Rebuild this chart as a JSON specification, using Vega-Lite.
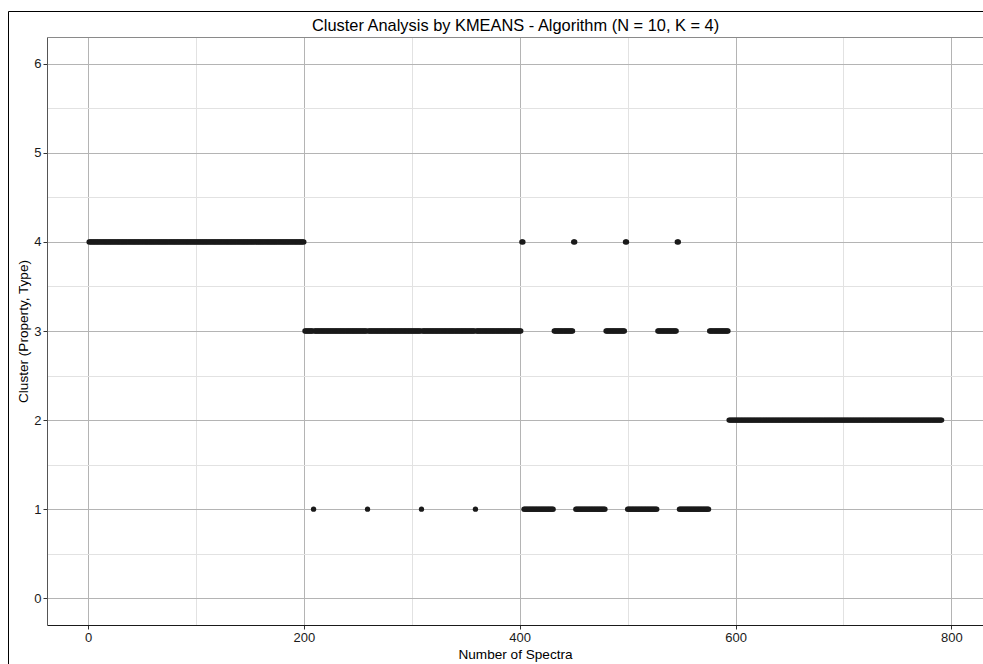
{
"$schema": "https://vega.github.io/schema/vega-lite/v6.json",
"width": 936, "height": 588,
"autosize": {"type": "none"},
"padding": {"left": 47, "top": 37, "right": 0, "bottom": 39},
"background": "white",
"title": {"text": "Cluster Analysis by KMEANS - Algorithm (N = 10, K = 4)", "anchor": "start", "frame": "group", "dx": 265, "font": "Liberation Sans", "fontSize": 16.4, "fontWeight": "normal", "color": "#000", "offset": -23},
"config": {"view": {"stroke": null}},
"data": {"values": [
{"n":1,"k":4},{"n":2,"k":4},{"n":3,"k":4},{"n":4,"k":4},{"n":5,"k":4},{"n":6,"k":4},{"n":7,"k":4},{"n":8,"k":4},{"n":9,"k":4},{"n":10,"k":4},
{"n":11,"k":4},{"n":12,"k":4},{"n":13,"k":4},{"n":14,"k":4},{"n":15,"k":4},{"n":16,"k":4},{"n":17,"k":4},{"n":18,"k":4},{"n":19,"k":4},{"n":20,"k":4},
{"n":21,"k":4},{"n":22,"k":4},{"n":23,"k":4},{"n":24,"k":4},{"n":25,"k":4},{"n":26,"k":4},{"n":27,"k":4},{"n":28,"k":4},{"n":29,"k":4},{"n":30,"k":4},
{"n":31,"k":4},{"n":32,"k":4},{"n":33,"k":4},{"n":34,"k":4},{"n":35,"k":4},{"n":36,"k":4},{"n":37,"k":4},{"n":38,"k":4},{"n":39,"k":4},{"n":40,"k":4},
{"n":41,"k":4},{"n":42,"k":4},{"n":43,"k":4},{"n":44,"k":4},{"n":45,"k":4},{"n":46,"k":4},{"n":47,"k":4},{"n":48,"k":4},{"n":49,"k":4},{"n":50,"k":4},
{"n":51,"k":4},{"n":52,"k":4},{"n":53,"k":4},{"n":54,"k":4},{"n":55,"k":4},{"n":56,"k":4},{"n":57,"k":4},{"n":58,"k":4},{"n":59,"k":4},{"n":60,"k":4},
{"n":61,"k":4},{"n":62,"k":4},{"n":63,"k":4},{"n":64,"k":4},{"n":65,"k":4},{"n":66,"k":4},{"n":67,"k":4},{"n":68,"k":4},{"n":69,"k":4},{"n":70,"k":4},
{"n":71,"k":4},{"n":72,"k":4},{"n":73,"k":4},{"n":74,"k":4},{"n":75,"k":4},{"n":76,"k":4},{"n":77,"k":4},{"n":78,"k":4},{"n":79,"k":4},{"n":80,"k":4},
{"n":81,"k":4},{"n":82,"k":4},{"n":83,"k":4},{"n":84,"k":4},{"n":85,"k":4},{"n":86,"k":4},{"n":87,"k":4},{"n":88,"k":4},{"n":89,"k":4},{"n":90,"k":4},
{"n":91,"k":4},{"n":92,"k":4},{"n":93,"k":4},{"n":94,"k":4},{"n":95,"k":4},{"n":96,"k":4},{"n":97,"k":4},{"n":98,"k":4},{"n":99,"k":4},{"n":100,"k":4},
{"n":101,"k":4},{"n":102,"k":4},{"n":103,"k":4},{"n":104,"k":4},{"n":105,"k":4},{"n":106,"k":4},{"n":107,"k":4},{"n":108,"k":4},{"n":109,"k":4},{"n":110,"k":4},
{"n":111,"k":4},{"n":112,"k":4},{"n":113,"k":4},{"n":114,"k":4},{"n":115,"k":4},{"n":116,"k":4},{"n":117,"k":4},{"n":118,"k":4},{"n":119,"k":4},{"n":120,"k":4},
{"n":121,"k":4},{"n":122,"k":4},{"n":123,"k":4},{"n":124,"k":4},{"n":125,"k":4},{"n":126,"k":4},{"n":127,"k":4},{"n":128,"k":4},{"n":129,"k":4},{"n":130,"k":4},
{"n":131,"k":4},{"n":132,"k":4},{"n":133,"k":4},{"n":134,"k":4},{"n":135,"k":4},{"n":136,"k":4},{"n":137,"k":4},{"n":138,"k":4},{"n":139,"k":4},{"n":140,"k":4},
{"n":141,"k":4},{"n":142,"k":4},{"n":143,"k":4},{"n":144,"k":4},{"n":145,"k":4},{"n":146,"k":4},{"n":147,"k":4},{"n":148,"k":4},{"n":149,"k":4},{"n":150,"k":4},
{"n":151,"k":4},{"n":152,"k":4},{"n":153,"k":4},{"n":154,"k":4},{"n":155,"k":4},{"n":156,"k":4},{"n":157,"k":4},{"n":158,"k":4},{"n":159,"k":4},{"n":160,"k":4},
{"n":161,"k":4},{"n":162,"k":4},{"n":163,"k":4},{"n":164,"k":4},{"n":165,"k":4},{"n":166,"k":4},{"n":167,"k":4},{"n":168,"k":4},{"n":169,"k":4},{"n":170,"k":4},
{"n":171,"k":4},{"n":172,"k":4},{"n":173,"k":4},{"n":174,"k":4},{"n":175,"k":4},{"n":176,"k":4},{"n":177,"k":4},{"n":178,"k":4},{"n":179,"k":4},{"n":180,"k":4},
{"n":181,"k":4},{"n":182,"k":4},{"n":183,"k":4},{"n":184,"k":4},{"n":185,"k":4},{"n":186,"k":4},{"n":187,"k":4},{"n":188,"k":4},{"n":189,"k":4},{"n":190,"k":4},
{"n":191,"k":4},{"n":192,"k":4},{"n":193,"k":4},{"n":194,"k":4},{"n":195,"k":4},{"n":196,"k":4},{"n":197,"k":4},{"n":198,"k":4},{"n":199,"k":4},{"n":200,"k":4},
{"n":201,"k":3},{"n":202,"k":3},{"n":203,"k":3},{"n":204,"k":3},{"n":205,"k":3},{"n":206,"k":3},{"n":207,"k":3},{"n":208,"k":3},{"n":209,"k":1},{"n":210,"k":3},
{"n":211,"k":3},{"n":212,"k":3},{"n":213,"k":3},{"n":214,"k":3},{"n":215,"k":3},{"n":216,"k":3},{"n":217,"k":3},{"n":218,"k":3},{"n":219,"k":3},{"n":220,"k":3},
{"n":221,"k":3},{"n":222,"k":3},{"n":223,"k":3},{"n":224,"k":3},{"n":225,"k":3},{"n":226,"k":3},{"n":227,"k":3},{"n":228,"k":3},{"n":229,"k":3},{"n":230,"k":3},
{"n":231,"k":3},{"n":232,"k":3},{"n":233,"k":3},{"n":234,"k":3},{"n":235,"k":3},{"n":236,"k":3},{"n":237,"k":3},{"n":238,"k":3},{"n":239,"k":3},{"n":240,"k":3},
{"n":241,"k":3},{"n":242,"k":3},{"n":243,"k":3},{"n":244,"k":3},{"n":245,"k":3},{"n":246,"k":3},{"n":247,"k":3},{"n":248,"k":3},{"n":249,"k":3},{"n":250,"k":3},
{"n":251,"k":3},{"n":252,"k":3},{"n":253,"k":3},{"n":254,"k":3},{"n":255,"k":3},{"n":256,"k":3},{"n":257,"k":3},{"n":258,"k":3},{"n":259,"k":1},{"n":260,"k":3},
{"n":261,"k":3},{"n":262,"k":3},{"n":263,"k":3},{"n":264,"k":3},{"n":265,"k":3},{"n":266,"k":3},{"n":267,"k":3},{"n":268,"k":3},{"n":269,"k":3},{"n":270,"k":3},
{"n":271,"k":3},{"n":272,"k":3},{"n":273,"k":3},{"n":274,"k":3},{"n":275,"k":3},{"n":276,"k":3},{"n":277,"k":3},{"n":278,"k":3},{"n":279,"k":3},{"n":280,"k":3},
{"n":281,"k":3},{"n":282,"k":3},{"n":283,"k":3},{"n":284,"k":3},{"n":285,"k":3},{"n":286,"k":3},{"n":287,"k":3},{"n":288,"k":3},{"n":289,"k":3},{"n":290,"k":3},
{"n":291,"k":3},{"n":292,"k":3},{"n":293,"k":3},{"n":294,"k":3},{"n":295,"k":3},{"n":296,"k":3},{"n":297,"k":3},{"n":298,"k":3},{"n":299,"k":3},{"n":300,"k":3},
{"n":301,"k":3},{"n":302,"k":3},{"n":303,"k":3},{"n":304,"k":3},{"n":305,"k":3},{"n":306,"k":3},{"n":307,"k":3},{"n":308,"k":3},{"n":309,"k":1},{"n":310,"k":3},
{"n":311,"k":3},{"n":312,"k":3},{"n":313,"k":3},{"n":314,"k":3},{"n":315,"k":3},{"n":316,"k":3},{"n":317,"k":3},{"n":318,"k":3},{"n":319,"k":3},{"n":320,"k":3},
{"n":321,"k":3},{"n":322,"k":3},{"n":323,"k":3},{"n":324,"k":3},{"n":325,"k":3},{"n":326,"k":3},{"n":327,"k":3},{"n":328,"k":3},{"n":329,"k":3},{"n":330,"k":3},
{"n":331,"k":3},{"n":332,"k":3},{"n":333,"k":3},{"n":334,"k":3},{"n":335,"k":3},{"n":336,"k":3},{"n":337,"k":3},{"n":338,"k":3},{"n":339,"k":3},{"n":340,"k":3},
{"n":341,"k":3},{"n":342,"k":3},{"n":343,"k":3},{"n":344,"k":3},{"n":345,"k":3},{"n":346,"k":3},{"n":347,"k":3},{"n":348,"k":3},{"n":349,"k":3},{"n":350,"k":3},
{"n":351,"k":3},{"n":352,"k":3},{"n":353,"k":3},{"n":354,"k":3},{"n":355,"k":3},{"n":356,"k":3},{"n":357,"k":3},{"n":358,"k":3},{"n":359,"k":1},{"n":360,"k":3},
{"n":361,"k":3},{"n":362,"k":3},{"n":363,"k":3},{"n":364,"k":3},{"n":365,"k":3},{"n":366,"k":3},{"n":367,"k":3},{"n":368,"k":3},{"n":369,"k":3},{"n":370,"k":3},
{"n":371,"k":3},{"n":372,"k":3},{"n":373,"k":3},{"n":374,"k":3},{"n":375,"k":3},{"n":376,"k":3},{"n":377,"k":3},{"n":378,"k":3},{"n":379,"k":3},{"n":380,"k":3},
{"n":381,"k":3},{"n":382,"k":3},{"n":383,"k":3},{"n":384,"k":3},{"n":385,"k":3},{"n":386,"k":3},{"n":387,"k":3},{"n":388,"k":3},{"n":389,"k":3},{"n":390,"k":3},
{"n":391,"k":3},{"n":392,"k":3},{"n":393,"k":3},{"n":394,"k":3},{"n":395,"k":3},{"n":396,"k":3},{"n":397,"k":3},{"n":398,"k":3},{"n":399,"k":3},{"n":400,"k":3},
{"n":401,"k":3},{"n":402,"k":4},{"n":403,"k":4},{"n":404,"k":1},{"n":405,"k":1},{"n":406,"k":1},{"n":407,"k":1},{"n":408,"k":1},{"n":409,"k":1},{"n":410,"k":1},
{"n":411,"k":1},{"n":412,"k":1},{"n":413,"k":1},{"n":414,"k":1},{"n":415,"k":1},{"n":416,"k":1},{"n":417,"k":1},{"n":418,"k":1},{"n":419,"k":1},{"n":420,"k":1},
{"n":421,"k":1},{"n":422,"k":1},{"n":423,"k":1},{"n":424,"k":1},{"n":425,"k":1},{"n":426,"k":1},{"n":427,"k":1},{"n":428,"k":1},{"n":429,"k":1},{"n":430,"k":1},
{"n":431,"k":1},{"n":432,"k":3},{"n":433,"k":3},{"n":434,"k":3},{"n":435,"k":3},{"n":436,"k":3},{"n":437,"k":3},{"n":438,"k":3},{"n":439,"k":3},{"n":440,"k":3},
{"n":441,"k":3},{"n":442,"k":3},{"n":443,"k":3},{"n":444,"k":3},{"n":445,"k":3},{"n":446,"k":3},{"n":447,"k":3},{"n":448,"k":3},{"n":449,"k":3},{"n":450,"k":4},
{"n":451,"k":4},{"n":452,"k":1},{"n":453,"k":1},{"n":454,"k":1},{"n":455,"k":1},{"n":456,"k":1},{"n":457,"k":1},{"n":458,"k":1},{"n":459,"k":1},{"n":460,"k":1},
{"n":461,"k":1},{"n":462,"k":1},{"n":463,"k":1},{"n":464,"k":1},{"n":465,"k":1},{"n":466,"k":1},{"n":467,"k":1},{"n":468,"k":1},{"n":469,"k":1},{"n":470,"k":1},
{"n":471,"k":1},{"n":472,"k":1},{"n":473,"k":1},{"n":474,"k":1},{"n":475,"k":1},{"n":476,"k":1},{"n":477,"k":1},{"n":478,"k":1},{"n":479,"k":1},{"n":480,"k":3},
{"n":481,"k":3},{"n":482,"k":3},{"n":483,"k":3},{"n":484,"k":3},{"n":485,"k":3},{"n":486,"k":3},{"n":487,"k":3},{"n":488,"k":3},{"n":489,"k":3},{"n":490,"k":3},
{"n":491,"k":3},{"n":492,"k":3},{"n":493,"k":3},{"n":494,"k":3},{"n":495,"k":3},{"n":496,"k":3},{"n":497,"k":3},{"n":498,"k":4},{"n":499,"k":4},{"n":500,"k":1},
{"n":501,"k":1},{"n":502,"k":1},{"n":503,"k":1},{"n":504,"k":1},{"n":505,"k":1},{"n":506,"k":1},{"n":507,"k":1},{"n":508,"k":1},{"n":509,"k":1},{"n":510,"k":1},
{"n":511,"k":1},{"n":512,"k":1},{"n":513,"k":1},{"n":514,"k":1},{"n":515,"k":1},{"n":516,"k":1},{"n":517,"k":1},{"n":518,"k":1},{"n":519,"k":1},{"n":520,"k":1},
{"n":521,"k":1},{"n":522,"k":1},{"n":523,"k":1},{"n":524,"k":1},{"n":525,"k":1},{"n":526,"k":1},{"n":527,"k":1},{"n":528,"k":3},{"n":529,"k":3},{"n":530,"k":3},
{"n":531,"k":3},{"n":532,"k":3},{"n":533,"k":3},{"n":534,"k":3},{"n":535,"k":3},{"n":536,"k":3},{"n":537,"k":3},{"n":538,"k":3},{"n":539,"k":3},{"n":540,"k":3},
{"n":541,"k":3},{"n":542,"k":3},{"n":543,"k":3},{"n":544,"k":3},{"n":545,"k":3},{"n":546,"k":4},{"n":547,"k":4},{"n":548,"k":1},{"n":549,"k":1},{"n":550,"k":1},
{"n":551,"k":1},{"n":552,"k":1},{"n":553,"k":1},{"n":554,"k":1},{"n":555,"k":1},{"n":556,"k":1},{"n":557,"k":1},{"n":558,"k":1},{"n":559,"k":1},{"n":560,"k":1},
{"n":561,"k":1},{"n":562,"k":1},{"n":563,"k":1},{"n":564,"k":1},{"n":565,"k":1},{"n":566,"k":1},{"n":567,"k":1},{"n":568,"k":1},{"n":569,"k":1},{"n":570,"k":1},
{"n":571,"k":1},{"n":572,"k":1},{"n":573,"k":1},{"n":574,"k":1},{"n":575,"k":1},{"n":576,"k":3},{"n":577,"k":3},{"n":578,"k":3},{"n":579,"k":3},{"n":580,"k":3},
{"n":581,"k":3},{"n":582,"k":3},{"n":583,"k":3},{"n":584,"k":3},{"n":585,"k":3},{"n":586,"k":3},{"n":587,"k":3},{"n":588,"k":3},{"n":589,"k":3},{"n":590,"k":3},
{"n":591,"k":3},{"n":592,"k":3},{"n":593,"k":3},{"n":594,"k":2},{"n":595,"k":2},{"n":596,"k":2},{"n":597,"k":2},{"n":598,"k":2},{"n":599,"k":2},{"n":600,"k":2},
{"n":601,"k":2},{"n":602,"k":2},{"n":603,"k":2},{"n":604,"k":2},{"n":605,"k":2},{"n":606,"k":2},{"n":607,"k":2},{"n":608,"k":2},{"n":609,"k":2},{"n":610,"k":2},
{"n":611,"k":2},{"n":612,"k":2},{"n":613,"k":2},{"n":614,"k":2},{"n":615,"k":2},{"n":616,"k":2},{"n":617,"k":2},{"n":618,"k":2},{"n":619,"k":2},{"n":620,"k":2},
{"n":621,"k":2},{"n":622,"k":2},{"n":623,"k":2},{"n":624,"k":2},{"n":625,"k":2},{"n":626,"k":2},{"n":627,"k":2},{"n":628,"k":2},{"n":629,"k":2},{"n":630,"k":2},
{"n":631,"k":2},{"n":632,"k":2},{"n":633,"k":2},{"n":634,"k":2},{"n":635,"k":2},{"n":636,"k":2},{"n":637,"k":2},{"n":638,"k":2},{"n":639,"k":2},{"n":640,"k":2},
{"n":641,"k":2},{"n":642,"k":2},{"n":643,"k":2},{"n":644,"k":2},{"n":645,"k":2},{"n":646,"k":2},{"n":647,"k":2},{"n":648,"k":2},{"n":649,"k":2},{"n":650,"k":2},
{"n":651,"k":2},{"n":652,"k":2},{"n":653,"k":2},{"n":654,"k":2},{"n":655,"k":2},{"n":656,"k":2},{"n":657,"k":2},{"n":658,"k":2},{"n":659,"k":2},{"n":660,"k":2},
{"n":661,"k":2},{"n":662,"k":2},{"n":663,"k":2},{"n":664,"k":2},{"n":665,"k":2},{"n":666,"k":2},{"n":667,"k":2},{"n":668,"k":2},{"n":669,"k":2},{"n":670,"k":2},
{"n":671,"k":2},{"n":672,"k":2},{"n":673,"k":2},{"n":674,"k":2},{"n":675,"k":2},{"n":676,"k":2},{"n":677,"k":2},{"n":678,"k":2},{"n":679,"k":2},{"n":680,"k":2},
{"n":681,"k":2},{"n":682,"k":2},{"n":683,"k":2},{"n":684,"k":2},{"n":685,"k":2},{"n":686,"k":2},{"n":687,"k":2},{"n":688,"k":2},{"n":689,"k":2},{"n":690,"k":2},
{"n":691,"k":2},{"n":692,"k":2},{"n":693,"k":2},{"n":694,"k":2},{"n":695,"k":2},{"n":696,"k":2},{"n":697,"k":2},{"n":698,"k":2},{"n":699,"k":2},{"n":700,"k":2},
{"n":701,"k":2},{"n":702,"k":2},{"n":703,"k":2},{"n":704,"k":2},{"n":705,"k":2},{"n":706,"k":2},{"n":707,"k":2},{"n":708,"k":2},{"n":709,"k":2},{"n":710,"k":2},
{"n":711,"k":2},{"n":712,"k":2},{"n":713,"k":2},{"n":714,"k":2},{"n":715,"k":2},{"n":716,"k":2},{"n":717,"k":2},{"n":718,"k":2},{"n":719,"k":2},{"n":720,"k":2},
{"n":721,"k":2},{"n":722,"k":2},{"n":723,"k":2},{"n":724,"k":2},{"n":725,"k":2},{"n":726,"k":2},{"n":727,"k":2},{"n":728,"k":2},{"n":729,"k":2},{"n":730,"k":2},
{"n":731,"k":2},{"n":732,"k":2},{"n":733,"k":2},{"n":734,"k":2},{"n":735,"k":2},{"n":736,"k":2},{"n":737,"k":2},{"n":738,"k":2},{"n":739,"k":2},{"n":740,"k":2},
{"n":741,"k":2},{"n":742,"k":2},{"n":743,"k":2},{"n":744,"k":2},{"n":745,"k":2},{"n":746,"k":2},{"n":747,"k":2},{"n":748,"k":2},{"n":749,"k":2},{"n":750,"k":2},
{"n":751,"k":2},{"n":752,"k":2},{"n":753,"k":2},{"n":754,"k":2},{"n":755,"k":2},{"n":756,"k":2},{"n":757,"k":2},{"n":758,"k":2},{"n":759,"k":2},{"n":760,"k":2},
{"n":761,"k":2},{"n":762,"k":2},{"n":763,"k":2},{"n":764,"k":2},{"n":765,"k":2},{"n":766,"k":2},{"n":767,"k":2},{"n":768,"k":2},{"n":769,"k":2},{"n":770,"k":2},
{"n":771,"k":2},{"n":772,"k":2},{"n":773,"k":2},{"n":774,"k":2},{"n":775,"k":2},{"n":776,"k":2},{"n":777,"k":2},{"n":778,"k":2},{"n":779,"k":2},{"n":780,"k":2},
{"n":781,"k":2},{"n":782,"k":2},{"n":783,"k":2},{"n":784,"k":2},{"n":785,"k":2},{"n":786,"k":2},{"n":787,"k":2},{"n":788,"k":2},{"n":789,"k":2},{"n":790,"k":2},
{"n":791,"k":2}
]},
"layer": [
{"mark": {"type": "point", "filled": true, "size": 28, "opacity": 1, "color": "#1a1a1a"},
 "encoding": {
  "x": {"field": "n", "type": "quantitative", "scale": {"domain": [-38, 829.3], "nice": false, "zero": false},
   "axis": {"values": [0,100,200,300,400,500,600,700,800], "format": "d",
    "labelExpr": "datum.value % 200 === 0 ? datum.label : ''",
    "tickColor": {"condition": {"test": "datum.value % 200 === 0", "value": "#333333"}, "value": "transparent"},
    "gridColor": {"condition": {"test": "datum.value % 200 === 0", "value": "#b4b4b4"}, "value": "#e2e2e2"},
    "gridWidth": 1, "grid": true, "domainColor": "#1a1a1a", "tickSize": 4, "labelFont": "Liberation Sans", "labelFontSize": 13, "labelColor": "#1a1a1a", "labelPadding": 2, "labelFlush": false, "labelOverlap": false,
    "title": "Number of Spectra", "titleFont": "Liberation Sans", "titleFontSize": 13.6, "titleFontWeight": "normal", "titleColor": "#000", "titlePadding": 3, "titleAnchor": "start", "titleAlign": "center", "titleX": 468}},
  "y": {"field": "k", "type": "quantitative", "scale": {"domain": [-0.3, 6.3], "nice": false, "zero": false},
   "axis": {"values": [0,0.5,1,1.5,2,2.5,3,3.5,4,4.5,5,5.5,6],
    "labelExpr": "datum.value % 1 === 0 ? format(datum.value, 'd') : ''",
    "tickColor": {"condition": {"test": "datum.value % 1 === 0", "value": "#333333"}, "value": "transparent"},
    "gridColor": {"condition": {"test": "datum.value % 1 === 0", "value": "#b4b4b4"}, "value": "#e2e2e2"},
    "gridWidth": 1, "grid": true, "domainColor": "#555555", "tickSize": 4, "labelFont": "Liberation Sans", "labelFontSize": 13, "labelColor": "#1a1a1a", "labelPadding": 2, "labelFlush": false, "labelOverlap": false,
    "title": "Cluster (Property, Type)", "titleFont": "Liberation Sans", "titleFontSize": 13.6, "titleFontWeight": "normal", "titleColor": "#000", "titlePadding": 3}}
 }},
{"mark": {"type": "point", "opacity": 0},
 "encoding": {
  "x": {"field": "n", "type": "quantitative", "scale": {"domain": [-38, 829.3], "nice": false, "zero": false, "range": [-39, 936]}, "axis": {"orient": "top", "offset": 26, "domainColor": "#000", "domainWidth": 1, "labels": false, "ticks": false, "grid": false, "title": null}},
  "y": {"field": "k", "type": "quantitative", "scale": {"domain": [-0.3, 6.3], "nice": false, "zero": false, "range": [627, -26]}, "axis": {"orient": "left", "offset": 39, "domainColor": "#000", "domainWidth": 1, "labels": false, "ticks": false, "grid": false, "title": null}}
 }},
{"mark": {"type": "point", "opacity": 0},
 "encoding": {
  "x": {"field": "n", "type": "quantitative", "scale": {"domain": [-38, 829.3], "nice": false, "zero": false}, "axis": {"orient": "top", "offset": 0, "domainColor": "#8a8a8a", "domainWidth": 1, "labels": false, "ticks": false, "grid": false, "title": null}}
 }}
],
"resolve": {"scale": {"x": "independent", "y": "independent"}, "axis": {"x": "independent", "y": "independent"}}
}
